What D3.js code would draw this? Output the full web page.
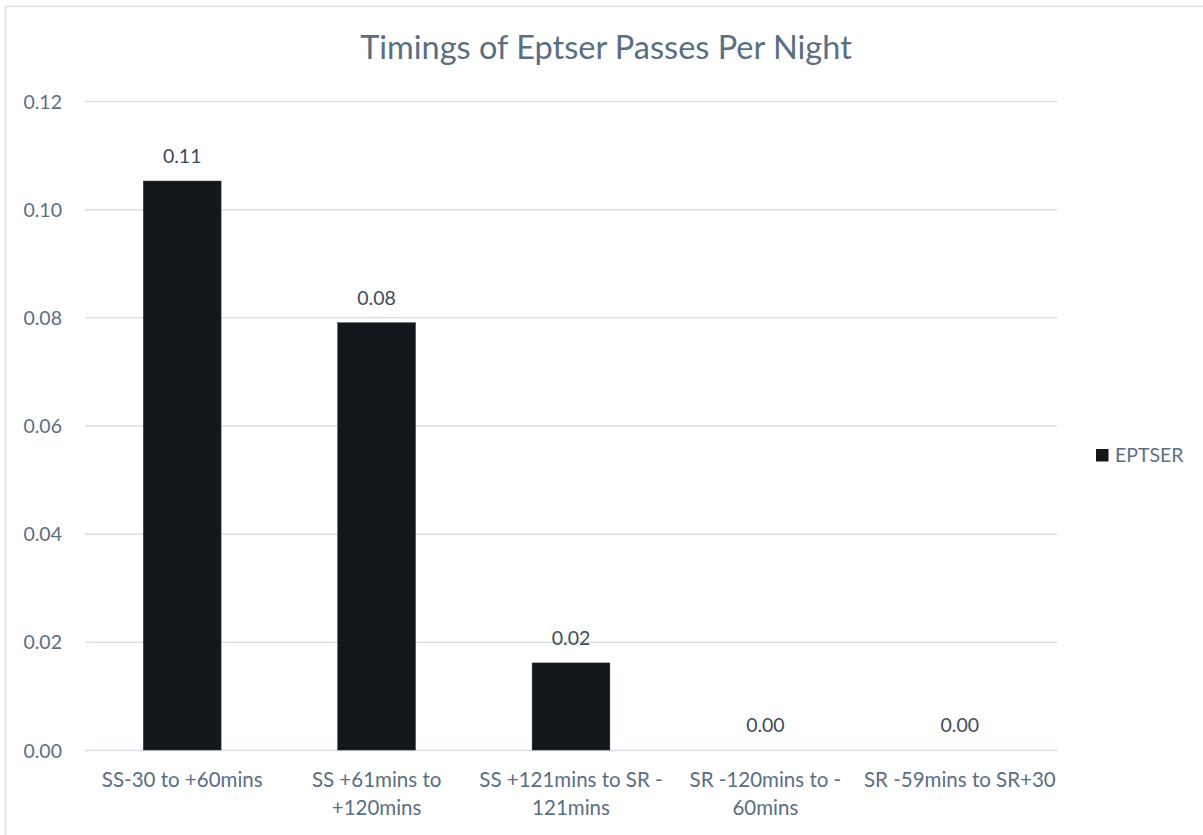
<!DOCTYPE html>
<html>
<head>
<meta charset="utf-8">
<script src="https://cdn.jsdelivr.net/npm/d3@7"></script>
<style>
  html, body { margin: 0; padding: 0; background: #ffffff; }
  svg { display: block; }
  text { font-family: Lato, "Open Sans", sans-serif; }
</style>
</head>
<body>
<svg id="chart" width="1203" height="835"></svg>
<script>
// Bat pass rates per night, grouped by time window relative to sunset (SS) / sunrise (SR)
const categoryLines = [
  ["SS-30 to +60mins"],
  ["SS +61mins to", "+120mins"],
  ["SS +121mins to SR -", "121mins"],
  ["SR -120mins to -", "60mins"],
  ["SR -59mins to SR+30"]
];
const categories = categoryLines.map(l => l.join(" "));
const seriesName = "EPTSER";
const passesPerNight = [0.1052, 0.079, 0.0161, 0, 0];
const yTicks = [0, 0.02, 0.04, 0.06, 0.08, 0.10, 0.12];
const chartTitle = "Timings of Eptser Passes Per Night";

const svg = d3.select("#chart");
const W = 1203, H = 835;
const plot = { left: 85, right: 1057, top: 101, bottom: 750 };

const textColor = "#5a6e84";
const labelColor = "#404b58";
const gridColor = "#d9dee4";
const barColor = "#13171c";

// outer chart frame
svg.append("rect")
  .attr("x", 5.5).attr("y", 6.5)
  .attr("width", W + 10).attr("height", H + 10)
  .attr("fill", "#ffffff")
  .attr("stroke", "#d9dde3")
  .attr("stroke-width", 1.5);

const x = d3.scaleBand()
  .domain(categories)
  .range([plot.left, plot.right])
  .paddingInner(0.6)
  .paddingOuter(0.3);

const y = d3.scaleLinear()
  .domain([0, 0.12])
  .range([plot.bottom, plot.top]);

// title
svg.append("text")
  .attr("x", 606).attr("y", 59)
  .attr("text-anchor", "middle")
  .attr("font-size", 32.5)
  .attr("fill", textColor)
  .text(chartTitle);

// horizontal gridlines + y tick labels
const yAxis = d3.axisLeft(y)
  .tickValues(yTicks)
  .tickFormat(d3.format(".2f"))
  .tickSize(-(plot.right - plot.left))
  .tickPadding(23);

const gy = svg.append("g")
  .attr("transform", `translate(${plot.left},0)`)
  .call(yAxis);
gy.select(".domain").remove();
gy.selectAll(".tick line")
  .attr("stroke", gridColor)
  .attr("stroke-width", 1.5);
gy.selectAll(".tick text")
  .attr("font-size", 19.5)
  .attr("fill", textColor)
  .attr("dy", "0.36em");

// bars
svg.append("g").selectAll("rect")
  .data(passesPerNight)
  .join("rect")
  .attr("x", (d, i) => x(categories[i]))
  .attr("width", x.bandwidth())
  .attr("y", d => y(d))
  .attr("height", d => y(0) - y(d))
  .attr("fill", barColor)
  .attr("stroke", "#2a2f35")
  .attr("stroke-width", 0.5);

// value labels
svg.append("g").selectAll("text")
  .data(passesPerNight)
  .join("text")
  .attr("x", (d, i) => x(categories[i]) + x.bandwidth() / 2)
  .attr("y", d => y(d) - 18)
  .attr("text-anchor", "middle")
  .attr("font-size", 19.5)
  .attr("fill", labelColor)
  .text(d => d.toFixed(2));

// category labels (x axis, no line / ticks)
const gx = svg.append("g")
  .attr("transform", `translate(0,${plot.bottom})`)
  .call(d3.axisBottom(x).tickSize(0).tickFormat(""));
gx.select(".domain").remove();
gx.selectAll(".tick").each(function(d, i) {
  const t = d3.select(this).append("text")
    .attr("text-anchor", "middle")
    .attr("font-size", 20.5)
    .attr("fill", textColor);
  categoryLines[i].forEach((line, j) => {
    t.append("tspan")
      .attr("x", 0)
      .attr("y", 37 + j * 28)
      .text(line);
  });
});

// legend
const legend = svg.append("g").attr("transform", "translate(1096,449)");
legend.append("rect")
  .attr("width", 12.5).attr("height", 12.5)
  .attr("fill", barColor);
legend.append("text")
  .attr("x", 19).attr("y", 13)
  .attr("font-size", 19.5)
  .attr("fill", textColor)
  .text(seriesName);
</script>
</body>
</html>
